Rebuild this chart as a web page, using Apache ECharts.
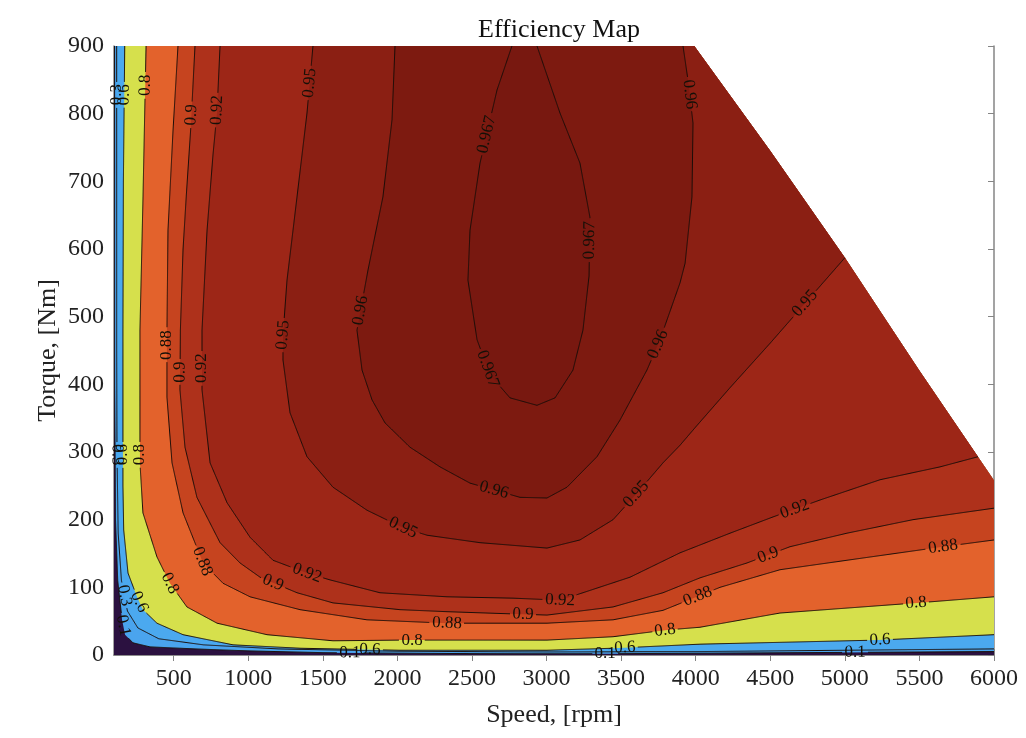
<!DOCTYPE html>
<html><head><meta charset="utf-8">
<script src="https://cdn.jsdelivr.net/npm/echarts@6/dist/echarts.min.js"></script>
<style>html,body{margin:0;padding:0;background:#fff}#c{width:1026px;height:738px}</style>
</head><body><div id="c"></div>
<script>
// ---------- DATA ----------
const levelNames = ['0.1','0.3','0.6','0.8','0.88','0.9','0.92','0.95','0.96','0.967'];
const xTicks = [500,1000,1500,2000,2500,3000,3500,4000,4500,5000,5500,6000];
const speedRange = [100, 6000];
const torqueRange = [0, 900];
// max-torque envelope [speed rpm, torque Nm]
const envelope = [[3990,900],[4500,745],[5000,587],[5500,420],[6000,258]];
// contour lines [speed, torque]
const c010 = [[104,900],[104,400],[110,200],[125,110],[154,52],[174,30],[227,18],[341,12],[643,9],[1012,6],[1500,3.5],[2500,2],[3500,2],[4700,3.5],[6000,5]];
const c030 = [[118,900],[118,450],[120,300],[128,180],[150,110],[190,65],[260,40],[400,24],[700,15],[1200,9],[2000,5.5],[3000,4.5],[4000,5],[5000,7],[6000,9]];
const c060 = [[172,900],[163,700],[160,480],[160,250],[165,185],[194,121],[254,86],[294,67],[388,47],[563,30],[898,15],[1347,10],[2017,7],[3003,7],[3446,10],[4029,16],[5216,22],[6000,30]];
const c080 = [[315,900],[294,672],[274,480],[274,284],[294,210],[388,145],[475,106],[589,71],[791,47],[1126,30],[1568,21],[2017,22],[3003,22],[3446,27],[3808,37],[4029,41],[4565,62],[5484,77],[6000,86]];
const c088 = [[529,900],[496,776],[462,628],[455,480],[455,381],[489,284],[563,210],[697,136],[831,106],[1012,86],[1347,67],[1796,52],[2333,47],[3003,47],[3446,52],[3781,66],[4029,88],[4163,100],[4565,126],[5014,140],[5658,160],[6000,170]];
const c090 = [[643,900],[615,780],[585,680],[563,600],[545,480],[542,392],[576,307],[656,233],[811,166],[945,136],[1079,115],[1327,92],[1568,77],[2017,67],[2333,64],[3003,59],[3446,71],[3781,92],[4029,114],[4344,136],[4632,160],[5014,180],[5457,200],[6000,217]];
const c092 = [[811,900],[790,800],[764,740],[724,628],[690,480],[690,392],[744,284],[858,225],[1012,174],[1166,140],[1394,121],[1548,111],[1883,92],[2333,86],[2775,84],[3090,81],[3244,92],[3560,115],[3895,151],[4230,180],[4518,204],[4833,229],[5236,259],[5638,278],[5893,293]];
const c095 = [[1434,900],[1394,801],[1327,677],[1260,554],[1233,473],[1233,436],[1280,358],[1394,293],[1568,248],[1796,214],[2038,188],[2199,177],[2554,166],[3003,158],[3224,170],[3446,200],[3606,239],[3781,284],[3895,310],[4000,337],[4230,395],[4500,461],[4746,523],[5000,587]];
const c096 = [[1984,900],[1964,791],[1903,677],[1803,569],[1729,480],[1763,421],[1830,377],[1917,343],[2085,307],[2286,278],[2487,254],[2822,233],[3003,232],[3137,248],[3338,293],[3492,347],[3673,421],[3761,466],[3895,550],[3929,579],[3975,677],[3982,786],[3948,850],[3915,900]];
const c0967 = [[2768,900],[2668,835],[2554,727],[2487,628],[2473,554],[2534,466],[2621,414],[2755,380],[2936,369],[3057,380],[3177,421],[3244,480],[3285,560],[3291,647],[3224,727],[3090,801],[2936,900]];
// inline contour labels [level, speed, torque]
const contourLabels = [
 ['0.3',120,828],['0.6',174,828],['0.8',328,842],['0.9',623,798],['0.92',797,805],['0.95',1428,845],
 ['0.967',2621,768],['0.967',3244,613],['0.96',3948,828],
 ['0.3',120,296],['0.6',167,296],['0.8',321,296],['0.88',455,458],['0.9',556,418],['0.92',703,424],
 ['0.95',1233,473],['0.96',1729,510],['0.967',2621,424],['0.96',3761,458],['0.95',4746,517],
 ['0.96',2641,239],['0.95',2038,188],['0.95',3593,239],
 ['0.92',1394,121],['0.92',3090,81],['0.92',4666,214],
 ['0.9',1159,103],['0.9',2842,59],['0.9',4485,148],
 ['0.88',710,140],['0.88',2333,49],['0.88',4009,89],['0.88',5658,160],
 ['0.8',475,106],['0.8',2098,22],['0.8',3794,37],['0.8',5477,77],
 ['0.6',227,74],['0.6',1816,4],['0.6',3526,7],['0.6',5236,22],
 ['0.1',1682,2],['0.1',3392,2],['0.1',5068,3],['0.3',127,86],['0.1',107,41]
];

// ---------- STYLE / HELPERS ----------
const contours = [c010,c030,c060,c080,c088,c090,c092,c095,c096,c0967];
const fills = ['#2b1140','#4aa4ee','#4ba9ef','#d6e04c','#e3622c','#c6441f','#ae311b','#9d2617','#8b1f13','#7d1a10','#781810'];
const serif = '"Liberation Serif","Times New Roman",serif';
const labelFont = '17px ' + serif;
const measureCtx = document.createElement('canvas').getContext('2d');
measureCtx.font = labelFont;

const boundary = [[speedRange[0],torqueRange[0]],[speedRange[0],torqueRange[1]]]
  .concat(envelope).concat([[speedRange[1],torqueRange[0]]]);

function param(p){
  const n = boundary.length; let best = 0, bd = Infinity;
  for (let i=0;i<n;i++){
    const a = boundary[i], b = boundary[(i+1)%n];
    const ax=a[0]/6000, ay=a[1]/900, bx=b[0]/6000, by=b[1]/900, px=p[0]/6000, py=p[1]/900;
    const dx=bx-ax, dy=by-ay, L=dx*dx+dy*dy;
    let t = L ? ((px-ax)*dx+(py-ay)*dy)/L : 0; t=Math.max(0,Math.min(1,t));
    const d=(ax+t*dx-px)**2+(ay+t*dy-py)**2;
    if (d<bd){bd=d; best=i+t;}
  }
  return best;
}
function regionPolygon(k){
  const c = contours[k], n = boundary.length;
  const tS = param(c[0]), tE = param(c[c.length-1]);
  const d = ((tE - tS) % n + n) % n;
  const verts = [];
  for (let v=0; v<n; v++){
    const dv = ((tE - v) % n + n) % n;
    if (dv > 1e-6 && dv < d - 1e-6) verts.push([dv, boundary[v]]);
  }
  verts.sort((a,b)=>a[0]-b[0]);
  return c.concat(verts.map(v=>v[1]));
}
function placeLabel(i, api){
  const lab = contourLabels[i];
  const k = levelNames.indexOf(lab[0]);
  const pts = contours[k].map(p=>api.coord(p));
  const q = api.coord([lab[1], lab[2]]);
  let best=null, bd=Infinity;
  for (let j=0;j<pts.length-1;j++){
    const a=pts[j], b=pts[j+1], dx=b[0]-a[0], dy=b[1]-a[1], L=dx*dx+dy*dy;
    let t = L ? ((q[0]-a[0])*dx+(q[1]-a[1])*dy)/L : 0; t=Math.max(0,Math.min(1,t));
    const x=a[0]+t*dx, y=a[1]+t*dy, dd=(x-q[0])**2+(y-q[1])**2;
    if (dd<bd){bd=dd; best={x:x,y:y,dx:dx,dy:dy};}
  }
  let th = Math.atan2(-best.dy, best.dx);
  if (th > Math.PI/2) th -= Math.PI;
  if (th <= -Math.PI/2) th += Math.PI;
  return {x:best.x, y:best.y, th:th, text:lab[0], k:k, half: measureCtx.measureText(lab[0]).width/2 + 2};
}

const fillData = [[-1,0]].concat(contours.map((c,k)=>[k,0]));
const lineData = contours.map((c,k)=>[k,0]);
const labelData = contourLabels.map((l,i)=>[i,0]);

function renderFill(params, api){
  const k = api.value(0);
  const pts = (k < 0 ? boundary : regionPolygon(k)).map(p=>api.coord(p));
  return {type:'polygon', shape:{points:pts}, style:{fill:fills[k+1], stroke:null}};
}
function renderLine(params, api){
  const k = api.value(0);
  const gaps = [];
  contourLabels.forEach((l,i)=>{ if (l[0] === levelNames[k]) gaps.push(placeLabel(i, api)); });
  const pts = contours[k].map(p=>api.coord(p));
  const dense = [];
  for (let j=0;j<pts.length-1;j++){
    const a=pts[j], b=pts[j+1];
    const len = Math.hypot(b[0]-a[0], b[1]-a[1]);
    const steps = Math.max(1, Math.ceil(len));
    for (let s=0; s<steps; s++){ const t=s/steps; dense.push([a[0]+t*(b[0]-a[0]), a[1]+t*(b[1]-a[1])]); }
  }
  dense.push(pts[pts.length-1]);
  const runs = []; let cur = [];
  dense.forEach(p=>{
    const inGap = gaps.some(g=>Math.hypot(p[0]-g.x, p[1]-g.y) < g.half);
    if (inGap){ if (cur.length>1) runs.push(cur); cur=[]; }
    else cur.push(p);
  });
  if (cur.length>1) runs.push(cur);
  return {type:'group', children: runs.map(r=>({type:'polyline', shape:{points:r},
          style:{fill:null, stroke:'#1a0d08', lineWidth:1}}))};
}
function renderLabel(params, api){
  const pl = placeLabel(api.value(0), api);
  return {type:'text', x:pl.x, y:pl.y, rotation:pl.th,
    style:{text:pl.text, fill:'#141008', font:labelFont, align:'center', verticalAlign:'middle'}};
}

const axisLineStyle = {color:'#858585', width:1.5};
const tickStyle = {color:'#858585', width:1};
const chart = echarts.init(document.getElementById('c'), null, {renderer:'canvas'});
chart.setOption({
  animation:false,
  backgroundColor:'#fff',
  title:{text:'Efficiency Map', left:554, top:12, textAlign:'center',
         textStyle:{fontFamily:serif, fontWeight:'normal', fontSize:26, color:'#111'}},
  grid:{left:114, right:32, top:46, bottom:83, containLabel:false, outerBoundsMode:'none'},
  xAxis:[
    {type:'value', position:'bottom', min:speedRange[0], max:speedRange[1],
     axisLine:{show:true, lineStyle:axisLineStyle},
     axisTick:{show:true, inside:true, length:6, customValues:xTicks, lineStyle:tickStyle},
     axisLabel:{customValues:xTicks, formatter:v=>String(v), fontFamily:serif, fontSize:24, color:'#222', margin:12},
     splitLine:{show:false},
     name:'Speed, [rpm]', nameLocation:'middle', nameGap:47, nameMoveOverlap:false,
     nameTextStyle:{fontFamily:serif, fontSize:26, color:'#222'}},
    {type:'value', position:'top', min:speedRange[0], max:speedRange[1],
     axisLine:{show:true, lineStyle:axisLineStyle},
     axisTick:{show:true, inside:true, length:6, customValues:xTicks, lineStyle:tickStyle},
     axisLabel:{show:false}, splitLine:{show:false}}
  ],
  yAxis:[
    {type:'value', position:'left', min:torqueRange[0], max:torqueRange[1], interval:100,
     axisLine:{show:true, lineStyle:axisLineStyle},
     axisTick:{show:true, inside:true, length:6, lineStyle:tickStyle},
     axisLabel:{formatter:v=>String(v), fontFamily:serif, fontSize:24, color:'#222', margin:10},
     splitLine:{show:false},
     name:'Torque, [Nm]', nameLocation:'middle', nameGap:53, nameRotate:90, nameMoveOverlap:false,
     nameTextStyle:{fontFamily:serif, fontSize:26, color:'#222'}},
    {type:'value', position:'right', min:torqueRange[0], max:torqueRange[1], interval:100,
     axisLine:{show:true, lineStyle:axisLineStyle},
     axisTick:{show:true, inside:true, length:6, lineStyle:tickStyle},
     axisLabel:{show:false}, splitLine:{show:false}}
  ],
  series:[
    {type:'custom', name:'fill', renderItem:renderFill, data:fillData, z:1, silent:true},
    {type:'custom', name:'lines', renderItem:renderLine, data:lineData, z:2, silent:true},
    {type:'custom', name:'labels', renderItem:renderLabel, data:labelData, z:3, silent:true}
  ]
});
</script></body></html>
